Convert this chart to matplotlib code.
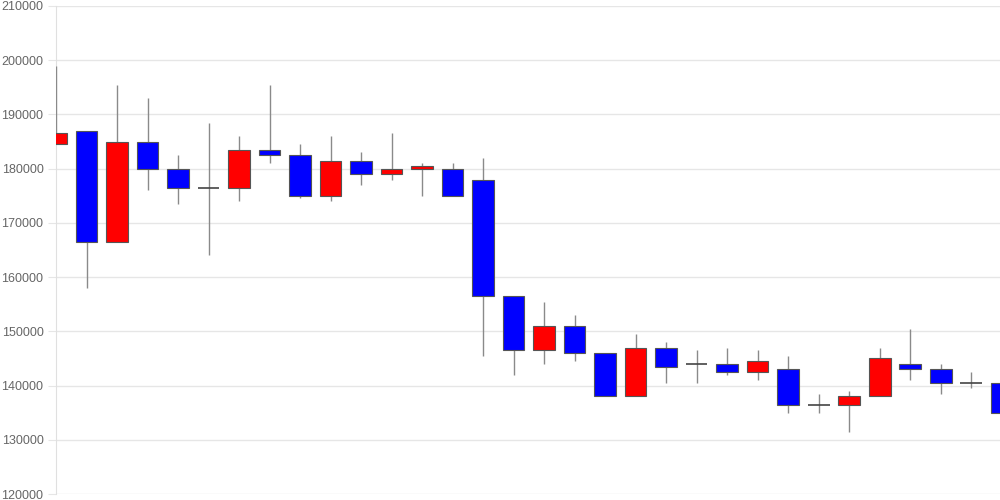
import matplotlib
matplotlib.use("Agg")
import matplotlib.pyplot as plt

# candle values (open, high, low, close)
opens = [184500, 187000, 166500, 185000, 180000, 176500, 176500, 183500,
         182500, 175000, 181500, 179000, 180000, 180000, 178000, 156500,
         146500, 151000, 146000, 138000, 147000, 144000, 144000, 142500,
         143000, 136500, 136500, 138000, 144000, 143000, 140500, 140500]
highs = [199000, 187000, 195500, 193000, 182500, 188500, 186000, 195500,
         184500, 186000, 183000, 186500, 181000, 181000, 182000, 156500,
         155500, 153000, 146000, 149500, 148000, 146500, 147000, 146500,
         145500, 138500, 139000, 147000, 150500, 144000, 142500, 140500]
lows = [184500, 158000, 166500, 176000, 173500, 164000, 174000, 181000,
        174500, 174000, 177000, 178000, 175000, 175000, 145500, 142000,
        144000, 144500, 138000, 138000, 140500, 140500, 142000, 141000,
        135000, 135000, 131500, 138000, 141000, 138500, 139500, 132000]
closes = [186500, 166500, 185000, 180000, 176500, 176500, 183500, 182500,
          175000, 181500, 179000, 180000, 180500, 175000, 156500, 146500,
          151000, 146000, 138000, 147000, 143500, 144000, 142500, 144500,
          136500, 136500, 138000, 145000, 143000, 140500, 140500, 135000]

yticks = list(range(120000, 210001, 10000))

plt.rcParams['font.family'] = ['Liberation Sans', 'DejaVu Sans']

fig = plt.figure(figsize=(10, 5), dpi=100)
ax = fig.add_axes([0.056, 0.012, 0.944, 0.976])

width = 0.72
for i in range(len(opens)):
    o, h, l, c = opens[i], highs[i], lows[i], closes[i]
    ax.vlines(i, l, h, color='#8a8a8a', linewidth=1, zorder=2)
    if o == c:
        ax.hlines(o, i - width / 2, i + width / 2, color='#444444', linewidth=1.2, zorder=3)
    else:
        col = '#ff0000' if c > o else '#0000ff'
        ax.bar(i, abs(c - o), bottom=min(o, c), width=width, color=col,
               edgecolor='#555555', linewidth=0.8, zorder=3)

ax.set_xlim(0, 30.95)
ax.set_ylim(120000, 210000)
ax.set_yticks(yticks)
ax.set_yticklabels([str(t) for t in yticks], color='#666666', fontsize=9)
ax.set_xticks([])
ax.tick_params(axis='y', length=6, color='#e6e6e6', pad=3)
ax.grid(axis='y', color='#e6e6e6', linewidth=1)
ax.set_axisbelow(True)
for s in ['top', 'right', 'bottom']:
    ax.spines[s].set_visible(False)
ax.spines['left'].set_color('#e0e0e0')
ax.spines['left'].set_zorder(1)

fig.savefig('out.png', dpi=100)
